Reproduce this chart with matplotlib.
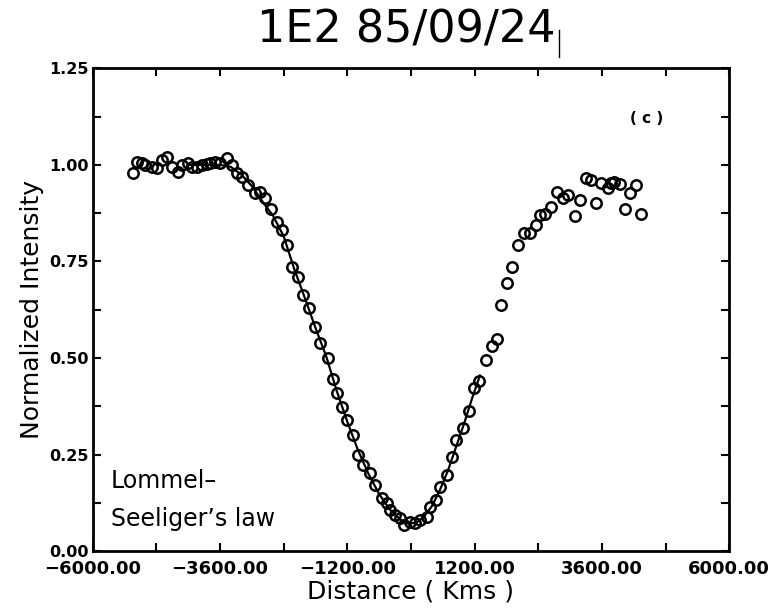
import matplotlib
matplotlib.use("Agg")
import matplotlib.pyplot as plt
from matplotlib.lines import Line2D
from matplotlib.ticker import MultipleLocator, FixedLocator

# Observed normalized intensity (open circles)
obs_x = [-5248, -5173, -5078, -5016, -4890, -4796, -4701, -4607, -4513, -4387,
         -4325, -4200, -4136, -4042, -3948, -3853, -3791, -3697, -3603, -3477,
         -3382, -3288, -3180, -3080, -2943, -2849, -2755, -2647, -2534, -2440,
         -2334, -2252, -2127, -2033, -1920, -1812, -1718, -1560, -1467, -1403,
         -1309, -1215, -1090, -996, -902, -776, -681, -556, -461, -399,
         -305, -210, -135, -22, 72, 166, 293, 355, 481, 544,
         670, 764, 858, 990, 1085, 1187, 1280, 1410, 1529, 1624,
         1706, 1819, 1913, 2019, 2132, 2240, 2353, 2428, 2530, 2640,
         2754, 2867, 2962, 3088, 3182, 3295, 3403, 3497, 3591, 3715,
         3779, 3823, 3936, 4030, 4138, 4251, 4345]
obs_y = [0.978, 1.008, 1.004, 0.999, 0.995, 0.991, 1.012, 1.021, 0.995, 0.982,
         0.999, 1.004, 0.995, 0.995, 0.999, 1.002, 1.004, 1.008, 1.004, 1.017,
         0.999, 0.980, 0.969, 0.948, 0.926, 0.930, 0.913, 0.887, 0.853, 0.831,
         0.792, 0.736, 0.710, 0.663, 0.629, 0.581, 0.538, 0.500, 0.447, 0.409,
         0.374, 0.340, 0.301, 0.249, 0.223, 0.202, 0.171, 0.137, 0.124, 0.107,
         0.094, 0.085, 0.068, 0.077, 0.072, 0.081, 0.090, 0.115, 0.133, 0.167,
         0.197, 0.245, 0.288, 0.318, 0.363, 0.422, 0.440, 0.495, 0.532, 0.549,
         0.637, 0.693, 0.735, 0.792, 0.824, 0.823, 0.844, 0.870, 0.873, 0.892,
         0.930, 0.915, 0.922, 0.868, 0.909, 0.965, 0.960, 0.902, 0.952, 0.939,
         0.952, 0.956, 0.950, 0.885, 0.926, 0.949, 0.872]

# Lommel-Seeliger model curve (solid line)
fit_x = [-4200, -3600, -3400, -3200, -3000, -2800, -2600, -2400, -2200, -2000,
         -1800, -1600, -1400, -1200, -1000, -800, -600, -400, -200, -50,
         100, 250, 400, 550, 700, 850, 1000, 1150, 1300]
fit_y = [1.000, 1.000, 0.995, 0.975, 0.945, 0.905, 0.868, 0.815, 0.730, 0.655,
         0.578, 0.505, 0.415, 0.335, 0.262, 0.200, 0.148, 0.108, 0.082, 0.072,
         0.074, 0.090, 0.118, 0.160, 0.210, 0.270, 0.330, 0.395, 0.455]

x_ticks = [-6000, -3600, -1200, 1200, 3600, 6000]
y_ticks = [0.00, 0.25, 0.50, 0.75, 1.00, 1.25]

fig = plt.figure(figsize=(7.7, 6.15), dpi=100)
ax = fig.add_axes([0.1205, 0.1036, 0.8265, 0.7854])

ax.plot(fit_x, fit_y, color="black", linewidth=1.6, zorder=2)
ax.plot(obs_x, obs_y, linestyle="none", marker="o", markersize=7.5,
        markerfacecolor="none", markeredgecolor="black", markeredgewidth=1.8,
        zorder=3)

ax.set_xlim(-6000, 6000)
ax.set_ylim(0, 1.25)
ax.xaxis.set_major_locator(FixedLocator(x_ticks))
ax.xaxis.set_minor_locator(MultipleLocator(1200))
ax.yaxis.set_major_locator(FixedLocator(y_ticks))
ax.yaxis.set_minor_locator(MultipleLocator(0.125))
ax.set_xticklabels([f"{v:.2f}".replace("-", "\u2212") for v in x_ticks],
                   fontsize=13, fontweight="bold")
ax.set_yticklabels([f"{v:.2f}" for v in y_ticks], fontsize=11.5, fontweight="bold")
ax.tick_params(which="both", direction="in", top=True, right=True,
               length=6, width=1.5)
ax.tick_params(axis="x", which="major", pad=6)
ax.tick_params(axis="y", which="major", pad=3)
for s in ax.spines.values():
    s.set_linewidth(2.0)

ax.set_xlabel("Distance ( Kms )", fontsize=18, labelpad=1)
ax.set_ylabel("Normalized Intensity", fontsize=18, labelpad=4)

ax.text(-5657, 0.182, "Lommel\u2013", fontsize=17, va="center", ha="left")
ax.text(-5657, 0.084, "Seeliger\u2019s law", fontsize=17, va="center", ha="left")
ax.text(4440, 1.121, "( c )", fontsize=11, fontweight="bold", va="center", ha="center")

fig.text(0.528, 0.952, "1E2 85/09/24", fontsize=32, ha="center", va="center")
# small vertical stroke after the title, as in the scanned original
fig.add_artist(Line2D([0.7265, 0.7265], [1 - 30 / 615, 1 - 57 / 615],
                      transform=fig.transFigure, color="black", linewidth=1.0))

fig.savefig("out.png", dpi=100)
